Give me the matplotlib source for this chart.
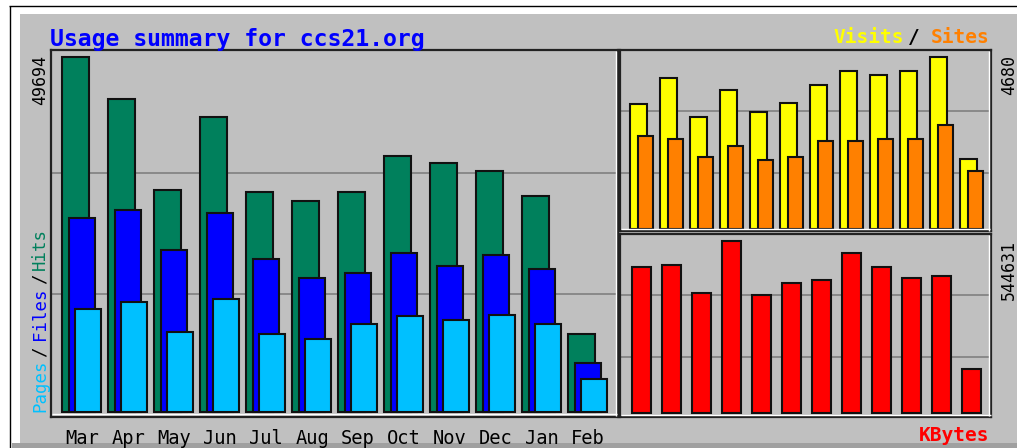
import matplotlib
matplotlib.use('Agg')
import matplotlib.pyplot as plt
from matplotlib.patches import Rectangle
from matplotlib.lines import Line2D
import numpy as np

# ---------------- data ----------------
months = ['Mar', 'Apr', 'May', 'Jun', 'Jul', 'Aug', 'Sep', 'Oct', 'Nov', 'Dec', 'Jan', 'Feb']
hits = [49694, 43815, 31077, 41337, 30797, 29579, 30797, 35920, 34940, 33736, 30321, 10961]
files = [27157, 28319, 22719, 27899, 21502, 18800, 19542, 22257, 20522, 21977, 20059, 6859]
pages = [14418, 15398, 11199, 15860, 10961, 10219, 12403, 13438, 12879, 13663, 12403, 4619]
visits = [3399, 4108, 3061, 3781, 3197, 3434, 3917, 4307, 4189, 4307, 4680, 1900]
sites = [2535, 2445, 1962, 2262, 1873, 1962, 2399, 2399, 2445, 2445, 2827, 1581]
kbytes = [461220, 467550, 378740, 544631, 372380, 411410, 421880, 505630, 461220, 427270, 433620, 139570]

title = 'Usage summary for ccs21.org'

# ---------------- style ----------------
BG = '#C0C0C0'
C_HITS, C_FILES, C_PAGES = '#00805C', '#0000FF', '#00C0FF'
C_VISITS, C_SITES, C_KB = '#FFFF00', '#FF8000', '#FF0000'
EDGE = '#111111'
GRID = '#808080'
FRAME = '#222222'
MONO = 'DejaVu Sans Mono'

W, H = 1017, 448
fig = plt.figure(figsize=(W / 100, H / 100), dpi=100)
fig.patch.set_facecolor('white')


def fx(p):
    return p / W


def fy(p):
    return 1 - p / H


def frect(l, t, r, b, color, z=-5):
    fig.add_artist(Rectangle((fx(l), fy(b)), (r - l) / W, (b - t) / H,
                             transform=fig.transFigure, facecolor=color,
                             edgecolor='none', zorder=z))


def fline(x0, y0, x1, y1, color, lw=1.0, z=-4):
    fig.add_artist(Line2D([fx(x0), fx(x1)], [fy(y0), fy(y1)], transform=fig.transFigure,
                          color=color, lw=lw, zorder=z, solid_capstyle='butt'))


# outer frame
frect(10, 7, W, 448, 'white')
frect(20, 14, W, 443, BG)
frect(12, 443, W, 448, '#A0A0A0')
fline(9.5, 6, 9.5, 448, 'black', lw=1.0)
fline(9, 6.5, W, 6.5, 'black', lw=1.0)


def panel(l, t, r, b, p0, pm, vmax, x0, slot, grid_fracs):
    """Create axes spanning pixel box; value 0 at pixel p0, vmax at pixel pm."""
    ax = fig.add_axes([fx(l), fy(b), (r - l) / W, (b - t) / H])
    ax.set_facecolor(BG)
    s = vmax / (p0 - pm)
    ax.set_ylim(-(b - p0) * s, (p0 - t) * s)
    ax.set_xlim((l - x0) / slot, (r - x0) / slot)
    for g in grid_fracs:
        ax.axhline(g * vmax, color=GRID, lw=1.2, zorder=0.5)
    for sp in ax.spines.values():
        sp.set_color(FRAME)
        sp.set_linewidth(1.6)
    ax.set_yticks([])
    ax.tick_params(axis='x', length=0)
    ax.set_xticks([])
    # inner light bevel (bottom/right)
    fline(l + 1, b - 2.2, r - 1, b - 2.2, 'white', lw=1.0, z=5)
    fline(r - 2.2, t + 1, r - 2.2, b - 1, 'white', lw=1.0, z=5)
    return ax


idx = np.arange(len(months))
bar_kw = dict(align='edge', edgecolor=EDGE, linewidth=1.5, zorder=2)

# ---- main panel: hits / files / pages ----
ax1 = panel(51, 50, 618, 416.5, 412.3, 57.3, max(hits), 62.3, 46.0, [1 / 3, 0.673])
ax1.bar(idx, hits, width=27 / 46, color=C_HITS, **bar_kw)
ax1.bar(idx + 6.7 / 46, files, width=26 / 46, color=C_FILES, **bar_kw)
ax1.bar(idx + 12.7 / 46, pages, width=26 / 46, color=C_PAGES, **bar_kw)
ax1.set_xticks(idx + 0.43)
ax1.set_xticklabels(months, fontsize=13.5, family=MONO, color='black')
ax1.tick_params(axis='x', length=0, pad=9)

# ---- visits / sites ----
ax2 = panel(620, 50, 991, 231.5, 229.3, 57.3, max(visits), 630.0, 30.0, [0.327, 0.685])
ax2.bar(idx, visits, width=17 / 30, color=C_VISITS, **bar_kw)
ax2.bar(idx + 8.3 / 30, sites, width=15 / 30, color=C_SITES, **bar_kw)

# ---- kbytes ----
ax3 = panel(620, 234, 991.5, 417, 412.7, 241, max(kbytes), 632.3, 30.0, [0.326, 0.684])
ax3.bar(idx, kbytes, width=19 / 30, color=C_KB, **bar_kw)

# ---------------- texts ----------------
fig.text(fx(49.5), fy(46.2), title, color='#0000FF', fontsize=16.7, fontweight='bold',
         family=MONO, ha='left', va='baseline')

fig.text(fx(833), fy(42.7), 'Visits', color=C_VISITS, fontsize=14, fontweight='bold',
         family=MONO, ha='left', va='baseline')
fig.text(fx(914), fy(42.7), '/', color='black', fontsize=14, fontweight='bold',
         family=MONO, ha='center', va='baseline')
fig.text(fx(989), fy(42.7), 'Sites', color=C_SITES, fontsize=14, fontweight='bold',
         family=MONO, ha='right', va='baseline')

fig.text(fx(989), fy(441), 'KBytes', color=C_KB, fontsize=14, fontweight='bold',
         family=MONO, ha='right', va='baseline')

fig.text(fx(40), fy(55), f'{max(hits)}', rotation=90, ha='center', va='top',
         fontsize=12, family=MONO, color='black')
fig.text(fx(1009), fy(55), f'{max(visits)}', rotation=90, ha='center', va='top',
         fontsize=12, family=MONO, color='black')
fig.text(fx(1009), fy(240), f'{max(kbytes)}', rotation=90, ha='center', va='top',
         fontsize=12, family=MONO, color='black')

lab_kw = dict(rotation=90, ha='center', fontsize=12.5, family=MONO)
fig.text(fx(40), fy(412), 'Pages', color=C_PAGES, va='bottom', **lab_kw)
fig.text(fx(40), fy(352), '/', color='black', va='center', **lab_kw)
fig.text(fx(40), fy(340), 'Files', color=C_FILES, va='bottom', **lab_kw)
fig.text(fx(40), fy(279), '/', color='black', va='center', **lab_kw)
fig.text(fx(40), fy(270), 'Hits', color=C_HITS, va='bottom', **lab_kw)

fig.savefig('out.png', dpi=100, facecolor=fig.get_facecolor())
